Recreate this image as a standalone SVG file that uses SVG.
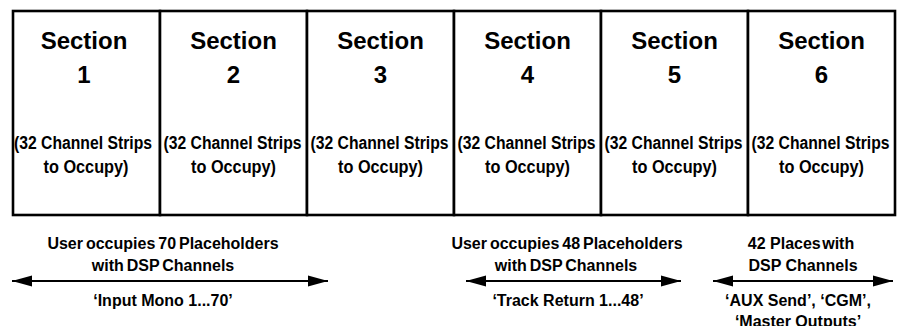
<svg xmlns="http://www.w3.org/2000/svg" width="897" height="326" viewBox="0 0 897 326">
<defs>
<style>
.box{fill:#fff;stroke:#000;stroke-width:2.6}
.t{font-family:"Liberation Sans",Arial,sans-serif;fill:#000;text-anchor:middle;font-weight:bold}
.h{font-size:24px}
.s{font-size:18px}
.b{font-size:16px}
.w{word-spacing:-1.5px}
.arr{stroke:#000;stroke-width:2.2;fill:none;marker-start:url(#ah);marker-end:url(#ah)}
</style>
<marker id="ah" markerUnits="userSpaceOnUse" markerWidth="22" markerHeight="12" refX="20" refY="6" orient="auto-start-reverse" viewBox="0 0 22 12">
<path d="M0,0.5 L20,6 L0,11.5 Z" fill="#000"/>
</marker>
</defs>
<rect width="897" height="326" fill="#fff"/>
<g id="section1">
<rect class="box" x="13" y="11" width="147" height="204"/>
<text class="t h" x="84" y="49">Section</text>
<text class="t h" x="84" y="83">1</text>
<text class="t s" x="83" y="149" textLength="138" lengthAdjust="spacingAndGlyphs">(32 Channel Strips</text>
<text class="t s" x="86" y="173" textLength="85" lengthAdjust="spacingAndGlyphs">to Occupy)</text>
</g>
<g id="section2">
<rect class="box" x="160" y="11" width="147" height="204"/>
<text class="t h" x="233.5" y="49">Section</text>
<text class="t h" x="233.5" y="83">2</text>
<text class="t s" x="232.5" y="149" textLength="138" lengthAdjust="spacingAndGlyphs">(32 Channel Strips</text>
<text class="t s" x="233.5" y="173" textLength="85" lengthAdjust="spacingAndGlyphs">to Occupy)</text>
</g>
<g id="section3">
<rect class="box" x="307" y="11" width="147" height="204"/>
<text class="t h" x="380.5" y="49">Section</text>
<text class="t h" x="380.5" y="83">3</text>
<text class="t s" x="379.5" y="149" textLength="138" lengthAdjust="spacingAndGlyphs">(32 Channel Strips</text>
<text class="t s" x="380.5" y="173" textLength="85" lengthAdjust="spacingAndGlyphs">to Occupy)</text>
</g>
<g id="section4">
<rect class="box" x="454" y="11" width="147" height="204"/>
<text class="t h" x="527.5" y="49">Section</text>
<text class="t h" x="527.5" y="83">4</text>
<text class="t s" x="526.5" y="149" textLength="138" lengthAdjust="spacingAndGlyphs">(32 Channel Strips</text>
<text class="t s" x="527.5" y="173" textLength="85" lengthAdjust="spacingAndGlyphs">to Occupy)</text>
</g>
<g id="section5">
<rect class="box" x="601" y="11" width="147" height="204"/>
<text class="t h" x="674.5" y="49">Section</text>
<text class="t h" x="674.5" y="83">5</text>
<text class="t s" x="673.5" y="149" textLength="138" lengthAdjust="spacingAndGlyphs">(32 Channel Strips</text>
<text class="t s" x="674.5" y="173" textLength="85" lengthAdjust="spacingAndGlyphs">to Occupy)</text>
</g>
<g id="section6">
<rect class="box" x="748" y="11" width="147" height="204"/>
<text class="t h" x="821.5" y="49">Section</text>
<text class="t h" x="821.5" y="83">6</text>
<text class="t s" x="820.5" y="149" textLength="138" lengthAdjust="spacingAndGlyphs">(32 Channel Strips</text>
<text class="t s" x="821.5" y="173" textLength="85" lengthAdjust="spacingAndGlyphs">to Occupy)</text>
</g>
<g id="connectors">
<line class="arr" x1="12" y1="281" x2="328" y2="281"/>
<line class="arr" x1="466" y1="281" x2="681" y2="281"/>
<line class="arr" x1="713" y1="281" x2="893" y2="281"/>
</g>
<g id="label1">
<text class="t b w" x="163" y="249">User occupies 70 Placeholders</text>
<text class="t b w" x="163" y="271">with DSP Channels</text>
<text class="t b" x="163" y="305.5">‘Input Mono 1...70’</text>
</g>
<g id="label2">
<text class="t b w" x="567" y="249">User occupies 48 Placeholders</text>
<text class="t b w" x="566" y="271">with DSP Channels</text>
<text class="t b" x="568" y="305.5">‘Track Return 1...48’</text>
</g>
<g id="label3">
<text class="t b" x="801" y="249">42 Places<tspan dx="-3"> with</tspan></text>
<text class="t b" x="803" y="271">DSP Channels</text>
<text class="t b" x="798" y="305.5">‘AUX Send’, ‘CGM’,</text>
<text class="t b" x="798" y="327">‘Master Outputs’</text>
</g>
</svg>
